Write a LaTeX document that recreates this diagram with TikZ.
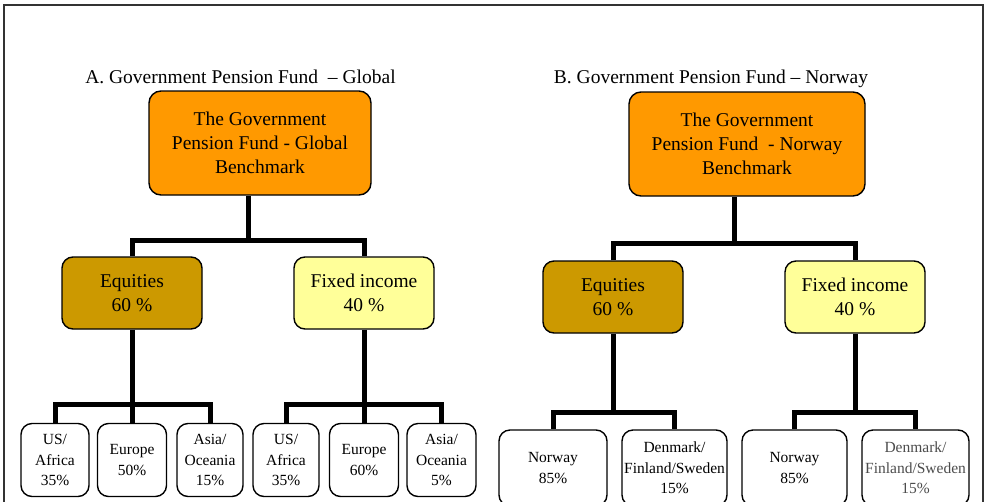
\documentclass[tikz,border=0pt]{standalone}
\usepackage{fontspec}
\setmainfont{Liberation Serif}
\definecolor{fundorange}{HTML}{FF9900}
\definecolor{equitygold}{HTML}{CC9900}
\definecolor{fixedyellow}{HTML}{FFFF99}
\begin{document}
\begin{tikzpicture}[x = 1pt, y = -1pt,
    heading/.style = {anchor = base, font = \fontsize{19.5}{24}\selectfont},
    fundbox/.style = {shape = rectangle, draw, rounded corners = 12pt, line width = 1.4pt, align = center, inner sep = 0pt, minimum height = 104pt, font = \fontsize{19.5}{24}\selectfont},
    classbox/.style = {shape = rectangle, draw, rounded corners = 11pt, line width = 1.4pt, align = center, inner sep = 0pt, minimum width = 140pt, minimum height = 72pt, font = \fontsize{19.5}{24}\selectfont},
    regionbox/.style = {shape = rectangle, draw, fill = white, rounded corners = 11pt, line width = 1.4pt, align = center, inner sep = 0pt, font = \fontsize{15.5}{20.5}\selectfont},
    link/.style = {line width = 5pt}]
    \clip (0,0) rectangle (987,501);
    \draw [line width = 1.5pt, draw = black!80] (4,5) rectangle (983,515);

    % A. global fund
    \node (titleA) [heading] at (240.5,83) {A. Government Pension Fund \ -- Global};
    \node (topA) [fundbox, fill = fundorange, minimum width = 222pt] at (260,143) {The Government\\Pension Fund - Global\\Benchmark};
    \node (eqA) [classbox, fill = equitygold] at (132,293) {Equities\\60 \%};
    \node (fiA) [classbox, fill = fixedyellow] at (364,293) {Fixed income\\40 \%};
    \node (usA1) [regionbox, minimum width = 68pt, minimum height = 73pt] at (55,460) {US/\\Africa\\35\%};
    \node (euA1) [regionbox, minimum width = 69pt, minimum height = 73pt] at (132,460) {Europe\\50\%};
    \node (asA1) [regionbox, minimum width = 66pt, minimum height = 73pt] at (210,460) {Asia/\\Oceania\\15\%};
    \node (usA2) [regionbox, minimum width = 66pt, minimum height = 73pt] at (286,460) {US/\\Africa\\35\%};
    \node (euA2) [regionbox, minimum width = 69pt, minimum height = 73pt] at (364,460) {Europe\\60\%};
    \node (asA2) [regionbox, minimum width = 69pt, minimum height = 73pt] at (441.5,460) {Asia/\\Oceania\\5\%};

    \coordinate (forkA) at (248,240);
    \coordinate (subA1) at (132,404);
    \coordinate (subA2) at (364,404);
    \draw [link] (topA.south -| forkA) -- (forkA);
    \draw [link] (eqA.north) |- (forkA) -| (fiA.north);
    \draw [link] (eqA.south) -- (euA1.north);
    \draw [link] (usA1.north) |- (subA1) -| (asA1.north);
    \draw [link] (fiA.south) -- (euA2.north);
    \draw [link] (usA2.north) |- (subA2) -| (asA2.north);

    % B. norway fund
    \node (titleB) [heading] at (711,83) {B. Government Pension Fund -- Norway};
    \node (topB) [fundbox, fill = fundorange, minimum width = 236pt] at (747,144) {The Government\\Pension Fund \ - Norway\\Benchmark};
    \node (eqB) [classbox, fill = equitygold] at (613,297) {Equities\\60 \%};
    \node (fiB) [classbox, fill = fixedyellow] at (855,297) {Fixed income\\40 \%};
    \node (noB1) [regionbox, minimum width = 108pt, minimum height = 76pt] at (553,468) {Norway\\85\%};
    \node (deB1) [regionbox, minimum width = 105pt, minimum height = 76pt] at (674.5,468) {Denmark/\\Finland/Sweden\\15\%};
    \node (noB2) [regionbox, minimum width = 105pt, minimum height = 76pt] at (794.5,468) {Norway\\85\%};
    \node (deB2) [regionbox, minimum width = 107pt, minimum height = 76pt, text = black!70] at (915.5,468) {Denmark/\\Finland/Sweden\\15\%};

    \coordinate (forkB) at (734,243);
    \coordinate (subB1) at (613,412);
    \coordinate (subB2) at (855,412);
    \draw [link] (topB.south -| forkB) -- (forkB);
    \draw [link] (eqB.north) |- (forkB) -| (fiB.north);
    \draw [link] (eqB.south) -- (subB1);
    \draw [link] (noB1.north) |- (subB1) -| (deB1.north);
    \draw [link] (fiB.south) -- (subB2);
    \draw [link] (noB2.north) |- (subB2) -| (deB2.north);
\end{tikzpicture}
\end{document}
